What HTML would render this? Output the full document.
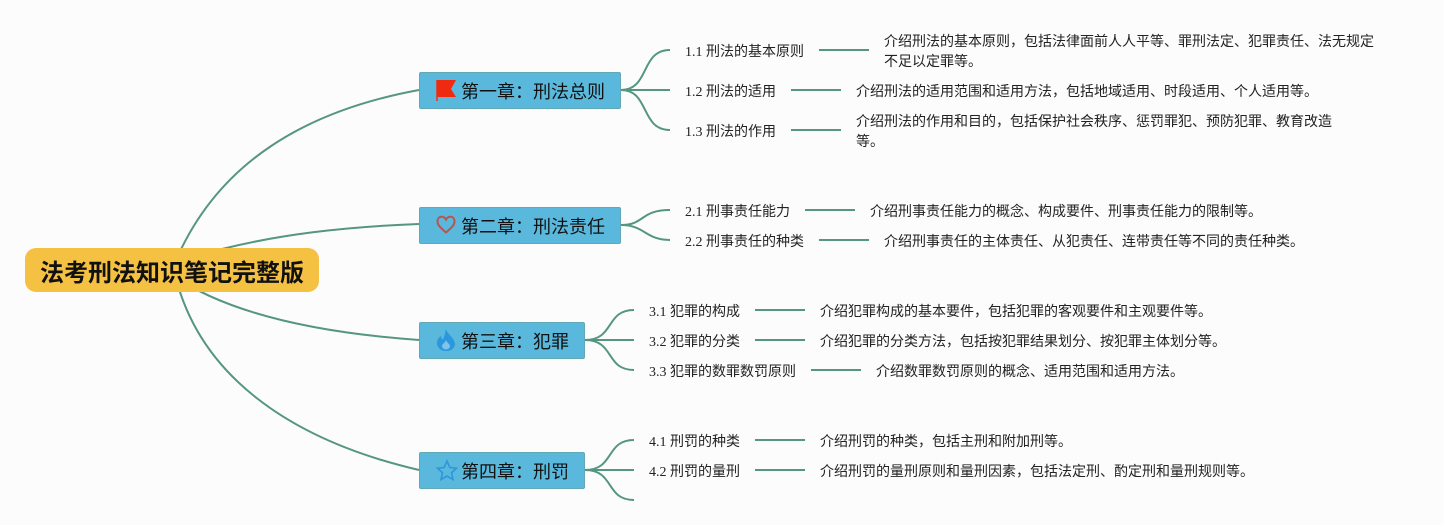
<!DOCTYPE html>
<html><head><meta charset="utf-8"><style>
html,body{margin:0;padding:0}
body{width:1444px;height:525px;background:#fcfcfc;position:relative;overflow:hidden;font-family:"Liberation Serif","WenQuanYi Zen Hei","Noto Sans CJK SC",sans-serif;color:#222}
svg{position:absolute;left:0;top:0}
.t{position:absolute;font-size:14px;line-height:20px;white-space:nowrap}
.ch{position:absolute;background:#5ab8dc;border:1px solid #62a8b4;border-radius:2px;box-sizing:border-box;height:37px;left:418.5px;font-size:18px;line-height:38px;color:#111;padding-left:41.5px;white-space:nowrap}
.root{position:absolute;left:25px;top:248px;width:294px;height:44px;background:#f5c143;border-radius:11px;font-size:24px;line-height:52px;font-weight:bold;color:#111;text-align:center;white-space:nowrap;font-family:"Liberation Sans","WenQuanYi Zen Hei","Noto Sans CJK SC",sans-serif}
</style></head><body>
<svg width="1444" height="525" fill="none" stroke="#55967f" stroke-width="2">
<path d="M172,270C215,160 310,110 419,90"/>
<path d="M222,249C278,235 340,227 419,224"/>
<path d="M172,275C230,315 320,333 419,340"/>
<path d="M174,270C197,375 290,440 419,470"/>
<path d="M621,90C650,90 640,50 670,50M621,90H670M621,90C650,90 640,130 670,130"/>
<path d="M621,225C645,225 640,210 670,210M621,225C645,225 645,240 670,240"/>
<path d="M585,340C615,340 605,310 634,310M585,340H634M585,340C615,340 605,370 634,370"/>
<path d="M585,470C615,470 605,440 634,440M585,470H634M585,470C615,470 605,500 634,500"/>
<path d="M819,50H869M791,90H841M791,130H841M805,210H855M819,240H869M755,310H805M755,340H805M811,370H861M755,440H805M755,470H805"/>
</svg>
<div class="root">法考刑法知识笔记完整版</div>
<div class="ch" style="top:71.5px;width:202px">第一章：刑法总则</div>
<div class="ch" style="top:206.5px;width:202px">第二章：刑法责任</div>
<div class="ch" style="top:321.5px;width:166px">第三章：犯罪</div>
<div class="ch" style="top:451.5px;width:166px">第四章：刑罚</div>
<svg width="1444" height="525">
<path d="M437,80V101" stroke="#e8321c" stroke-width="1.5"/>
<path d="M437,80H456L451,89L456,97H437Z" fill="#f02a10"/>
<path d="M446,232.5C441,228 437.5,225.5 437.5,221.5C437.5,215.5 444,215.5 446,219.5C448,215.5 454.5,215.5 454.5,221.5C454.5,225.5 451,228 446,232.5Z" fill="none" stroke="#b8554f" stroke-width="2"/>
<path d="M446,329C447,334 454,337 455,344C455,347 452,351 446,351C440,351 437,347 437,343C437,340 439,337 441,336C441,338 442,340 443,339C445,336 445,332 446,329Z" fill="#2b97dc"/>
<path d="M446,340C447,343 450,344 450,346C450,348 448,349.5 446,349.5C444,349.5 442,348 442,346C442,344 445,343 446,340Z" fill="#7cc4ea"/>
<path d="M447,461L449.8,467.5L456.5,468.2L451.5,472.7L453,479.5L447,476L441,479.5L442.5,472.7L437.5,468.2L444.2,467.5Z" fill="none" stroke="#2b97dc" stroke-width="1.6"/>
</svg>
<div class="t" style="left:685px;top:43px">1.1 刑法的基本原则</div>
<div class="t" style="left:685px;top:83px">1.2 刑法的适用</div>
<div class="t" style="left:685px;top:123px">1.3 刑法的作用</div>
<div class="t" style="left:685px;top:203px">2.1 刑事责任能力</div>
<div class="t" style="left:685px;top:233px">2.2 刑事责任的种类</div>
<div class="t" style="left:649px;top:303px">3.1 犯罪的构成</div>
<div class="t" style="left:649px;top:333px">3.2 犯罪的分类</div>
<div class="t" style="left:649px;top:363px">3.3 犯罪的数罪数罚原则</div>
<div class="t" style="left:649px;top:433px">4.1 刑罚的种类</div>
<div class="t" style="left:649px;top:463px">4.2 刑罚的量刑</div>
<div class="t" style="left:884px;top:33px">介绍刑法的基本原则，包括法律面前人人平等、罪刑法定、犯罪责任、法无规定<br>不足以定罪等。</div>
<div class="t" style="left:856px;top:83px">介绍刑法的适用范围和适用方法，包括地域适用、时段适用、个人适用等。</div>
<div class="t" style="left:856px;top:113px">介绍刑法的作用和目的，包括保护社会秩序、惩罚罪犯、预防犯罪、教育改造<br>等。</div>
<div class="t" style="left:870px;top:203px">介绍刑事责任能力的概念、构成要件、刑事责任能力的限制等。</div>
<div class="t" style="left:884px;top:233px">介绍刑事责任的主体责任、从犯责任、连带责任等不同的责任种类。</div>
<div class="t" style="left:820px;top:303px">介绍犯罪构成的基本要件，包括犯罪的客观要件和主观要件等。</div>
<div class="t" style="left:820px;top:333px">介绍犯罪的分类方法，包括按犯罪结果划分、按犯罪主体划分等。</div>
<div class="t" style="left:876px;top:363px">介绍数罪数罚原则的概念、适用范围和适用方法。</div>
<div class="t" style="left:820px;top:433px">介绍刑罚的种类，包括主刑和附加刑等。</div>
<div class="t" style="left:820px;top:463px">介绍刑罚的量刑原则和量刑因素，包括法定刑、酌定刑和量刑规则等。</div>
</body></html>
